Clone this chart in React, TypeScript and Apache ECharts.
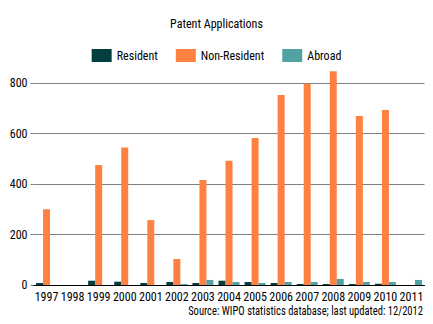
import React, { useEffect, useRef } from "react";
import * as echarts from "echarts";

const years = ["1997","1998","1999","2000","2001","2002","2003","2004","2005","2006","2007","2008","2009","2010","2011"];
const resident = [8, 0, 17, 13, 8, 12, 8, 17, 12, 8, 4, 4, 4, 5, 0];
const nonResident = [300, 0, 475, 545, 257, 103, 416, 492, 582, 752, 797, 847, 669, 693, 0];
const abroad = [0, 0, 0, 0, 0, 4, 20, 12, 8, 12, 12, 24, 12, 12, 20];
const yTicks = [0, 200, 400, 600, 800];

const FONT = "'Roboto Condensed', 'Liberation Sans', sans-serif";

export default function App() {
  const ref = useRef<HTMLDivElement>(null);
  useEffect(() => {
    if (!ref.current) return;
    const chart = echarts.init(ref.current, null, { renderer: "svg" });
    chart.setOption({
      animation: false,
      textStyle: { fontFamily: FONT },
      title: {
        text: "Patent Applications",
        left: "center",
        top: 13,
        textStyle: { fontFamily: FONT, fontSize: 12, fontWeight: "normal", color: "#000" },
      },
      legend: {
        top: 44,
        left: "center",
        itemWidth: 20,
        itemHeight: 13,
        itemGap: 18,
        icon: "rect",
        textStyle: { fontFamily: FONT, fontSize: 12, color: "#000" },
        data: ["Resident", "Non-Resident", "Abroad"],
      },
      grid: { left: 33.5, right: 8.5, top: 57.75, bottom: 39, containLabel: false },
      xAxis: {
        type: "category",
        data: years,
        axisLine: { lineStyle: { color: "#000", width: 1 } },
        axisTick: { show: false },
        axisLabel: { fontFamily: FONT, fontSize: 12, color: "#000", margin: 6, interval: 0 },
      },
      yAxis: {
        type: "value",
        min: yTicks[0],
        max: 900,
        interval: 200,
        axisLine: { show: false },
        axisTick: { show: true, length: 3, lineStyle: { color: "#808080" } },
        axisLabel: { fontFamily: FONT, fontSize: 12, color: "#000", margin: 6, showMaxLabel: false },
        splitLine: { show: true, showMaxLine: false, showMinLine: false, lineStyle: { color: "#808080", width: 1 } },
      },
      series: [
        { name: "Resident", type: "bar", data: resident, barWidth: 7, barGap: "0%", itemStyle: { color: "#033f3f" } },
        { name: "Non-Resident", type: "bar", data: nonResident, barWidth: 7, barGap: "0%", itemStyle: { color: "#fe8142" } },
        { name: "Abroad", type: "bar", data: abroad, barWidth: 7, barGap: "0%", itemStyle: { color: "#51a2a2" } },
      ],
      graphic: [
        {
          type: "text",
          x: 423,
          y: 311,
          scaleX: 0.88,
          style: {
            text: "Source: WIPO statistics database; last updated: 12/2012",
            font: `12px ${FONT}`,
            fill: "#000",
            align: "right",
            verticalAlign: "middle",
          },
        },
      ],
    });
    return () => chart.dispose();
  }, []);
  return <div ref={ref} style={{ position: "absolute", left: 0, top: 0, width: 433, height: 324 }} />;
}
